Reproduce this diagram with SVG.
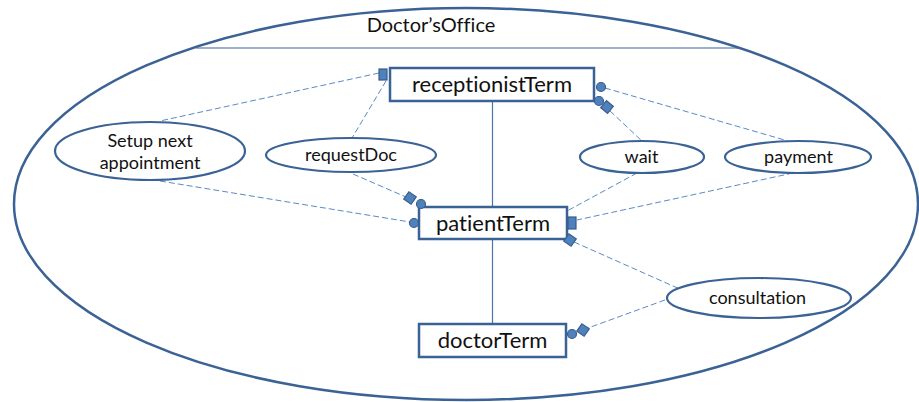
<svg xmlns="http://www.w3.org/2000/svg" width="919" height="402" viewBox="0 0 919 402">
  <style>
    .outline { fill: none; stroke: #3b6295; stroke-width: 2.5; }
    .box { fill: #ffffff; stroke: #3b6295; stroke-width: 2.5; }
    .usecase { fill: #ffffff; stroke: #3b6295; stroke-width: 2.2; }
    .solid { stroke: #4a76ad; stroke-width: 1.2; fill: none; }
    .dash { stroke: #5b8ac6; stroke-width: 1; stroke-dasharray: 6 3; fill: none; }
    .port { fill: #4f81bd; stroke: #385d8a; stroke-width: 1.2; }
    text { font-family: Lato, "Liberation Sans", sans-serif; fill: #111111; text-anchor: middle; font-variant-ligatures: none; font-feature-settings: "liga" 0, "clig" 0; }
    .big { font-size: 22px; }
    .title { font-size: 20px; }
    .small { font-size: 18px; }
  </style>
  <defs>
    <rect id="diamond" x="-4.5" y="-4.5" width="9" height="9" class="port"/>
  </defs>

  <!-- system boundary -->
  <g id="doctors-office">
    <ellipse class="outline" cx="466" cy="204" rx="452" ry="196"/>
    <line class="solid" x1="196" y1="48" x2="741" y2="48" style="stroke:#3b6295"/>
    <text class="title" x="431" y="32">Doctor’sOffice</text>
  </g>

  <!-- connectors -->
  <g id="connectors">
    <line class="solid" x1="492.5" y1="101" x2="492.5" y2="207"/>
    <line class="solid" x1="492.5" y1="239" x2="492.5" y2="324"/>
    <line class="dash" x1="379" y1="73" x2="160" y2="121"/>
    <line class="dash" x1="386" y1="81" x2="352" y2="138"/>
    <line class="dash" x1="605" y1="88" x2="788" y2="141"/>
    <line class="dash" x1="610" y1="111" x2="642" y2="141"/>
    <line class="dash" x1="160" y1="181" x2="410" y2="222"/>
    <line class="dash" x1="353" y1="174" x2="406" y2="197"/>
    <line class="dash" x1="637" y1="173" x2="567" y2="211"/>
    <line class="dash" x1="793" y1="173" x2="577" y2="220"/>
    <line class="dash" x1="574" y1="242" x2="682" y2="290"/>
    <line class="dash" x1="665" y1="300" x2="588" y2="328"/>
  </g>

  <!-- components -->
  <g id="receptionistTerm">
    <rect class="box" x="390" y="68" width="204" height="33"/>
    <text class="big" x="492" y="92">receptionistTerm</text>
    <rect class="port" x="379" y="69" width="8" height="11"/>
    <circle class="port" cx="601" cy="87" r="4.5"/>
    <circle class="port" cx="599" cy="101" r="4.5"/>
    <use href="#diamond" transform="translate(607 107) rotate(40)"/>
  </g>

  <g id="patientTerm">
    <rect class="box" x="419" y="207" width="148" height="32"/>
    <text class="big" x="493" y="231">patientTerm</text>
    <use href="#diamond" transform="translate(410 198) rotate(35)"/>
    <circle class="port" cx="421" cy="204" r="4.5"/>
    <circle class="port" cx="414" cy="223" r="4.5"/>
    <rect class="port" x="568" y="217" width="8" height="12"/>
    <use href="#diamond" transform="translate(570 240) rotate(35)"/>
  </g>

  <g id="doctorTerm">
    <rect class="box" x="419" y="324" width="147" height="33"/>
    <text class="big" x="492.5" y="348">doctorTerm</text>
    <circle class="port" cx="572" cy="334" r="4.5"/>
    <use href="#diamond" transform="translate(583 330) rotate(35)"/>
  </g>

  <!-- use cases -->
  <g id="setup-next-appointment">
    <ellipse class="usecase" cx="150" cy="151" rx="95" ry="29"/>
    <text class="small" x="150" y="147">Setup next</text>
    <text class="small" x="150" y="169">appointment</text>
  </g>

  <g id="requestDoc">
    <ellipse class="usecase" cx="351" cy="155" rx="85" ry="17"/>
    <text class="small" x="351" y="161">requestDoc</text>
  </g>

  <g id="wait">
    <ellipse class="usecase" cx="642" cy="157" rx="62" ry="16"/>
    <text class="small" x="641.5" y="163">wait</text>
  </g>

  <g id="payment">
    <ellipse class="usecase" cx="798" cy="157" rx="73" ry="16"/>
    <text class="small" x="798.5" y="163">payment</text>
  </g>

  <g id="consultation">
    <ellipse class="usecase" cx="759" cy="298" rx="92" ry="20"/>
    <text class="small" x="757.5" y="304">consultation</text>
  </g>
</svg>
